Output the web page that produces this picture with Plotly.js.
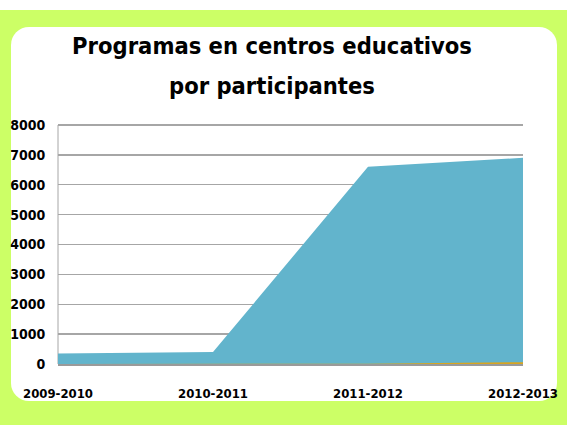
<!DOCTYPE html>
<html>
<head>
<meta charset="utf-8">
<script src="https://cdn.plot.ly/plotly-3.0.1.min.js"></script>
<style>
  html, body { margin: 0; padding: 0; background: #ffffff; width: 567px; height: 425px; overflow: hidden; }
  #green { position: absolute; left: 0; top: 10px; width: 567px; height: 415px; background: #ccff66; }
  #panel { position: absolute; left: 11px; top: 27px; width: 546px; height: 374px; background: #ffffff; border-radius: 18px; }
  #chart { position: absolute; left: 0; top: 0; width: 567px; height: 425px; }
</style>
</head>
<body>
<div id="green"></div>
<div id="panel"></div>
<div id="chart"></div>
<script>
const categories = ["2009-2010", "2010-2011", "2011-2012", "2012-2013"];
const participantes = [350, 400, 6600, 6900];
const otros = [0, 0, 10, 60];
const yTicks = [0, 1000, 2000, 3000, 4000, 5000, 6000, 7000, 8000];
const titleLine1 = "Programas en centros educativos";
const titleLine2 = "por participantes";

const font = "'DejaVu Sans Condensed', 'DejaVu Sans', Arial, sans-serif";

const traces = [
  {
    type: "scatter", mode: "lines", x: categories, y: participantes,
    fill: "tozeroy", fillcolor: "#62b4cc", line: { width: 0, color: "#62b4cc" },
    hoverinfo: "x+y", showlegend: false
  },
  {
    type: "scatter", mode: "lines", x: categories, y: otros,
    fill: "tozeroy", fillcolor: "#d9a520", line: { width: 0, color: "#d9a520" },
    hoverinfo: "x+y", showlegend: false
  }
];

const layout = {
  width: 567, height: 425,
  margin: { l: 58, r: 44, t: 122, b: 61, pad: 0 },
  paper_bgcolor: "rgba(0,0,0,0)",
  plot_bgcolor: "rgba(0,0,0,0)",
  showlegend: false,
  title: {
    text: titleLine1,
    font: { family: font, size: 23.5, color: "#000000", weight: "bold", stretch: "condensed" },
    x: 272 / 567, xanchor: "center", xref: "container",
    y: 1 - 46 / 425, yref: "container", yanchor: "middle"
  },
  annotations: [{
    text: titleLine2,
    font: { family: font, size: 23.5, color: "#000000", weight: "bold", stretch: "condensed" },
    xref: "paper", yref: "paper",
    x: (272 - 58) / 465, y: (364 - 86) / 242,
    xanchor: "center", yanchor: "middle", showarrow: false
  }],
  xaxis: {
    type: "category",
    range: [0, 3],
    showgrid: false,
    showline: true, linecolor: "#9a9a9a", linewidth: 2, layer: "above traces",
    zeroline: false,
    ticks: "outside", ticklen: 16, tickcolor: "rgba(0,0,0,0)",
    tickfont: { family: font, size: 13, color: "#000000", weight: "bold", stretch: "condensed" },
    tickangle: 0,
    fixedrange: true
  },
  yaxis: {
    range: [0, 8100],
    tickvals: yTicks,
    ticktext: yTicks.map(String),
    showgrid: true, gridcolor: "#a6a6a6", gridwidth: 1.5,
    showline: false,
    zeroline: false,
    ticks: "outside", ticklen: 9, tickcolor: "rgba(0,0,0,0)",
    tickfont: { family: font, size: 14, color: "#000000", weight: "bold", stretch: "condensed" },
    fixedrange: true
  },
  shapes: [{
    type: "line", xref: "paper", yref: "y", x0: 0, x1: 0, y0: 0, y1: 8000,
    line: { color: "#a6a6a6", width: 1 }, layer: "below"
  }]
};

Plotly.newPlot("chart", traces, layout, { displayModeBar: false, staticPlot: true });
</script>
</body>
</html>
